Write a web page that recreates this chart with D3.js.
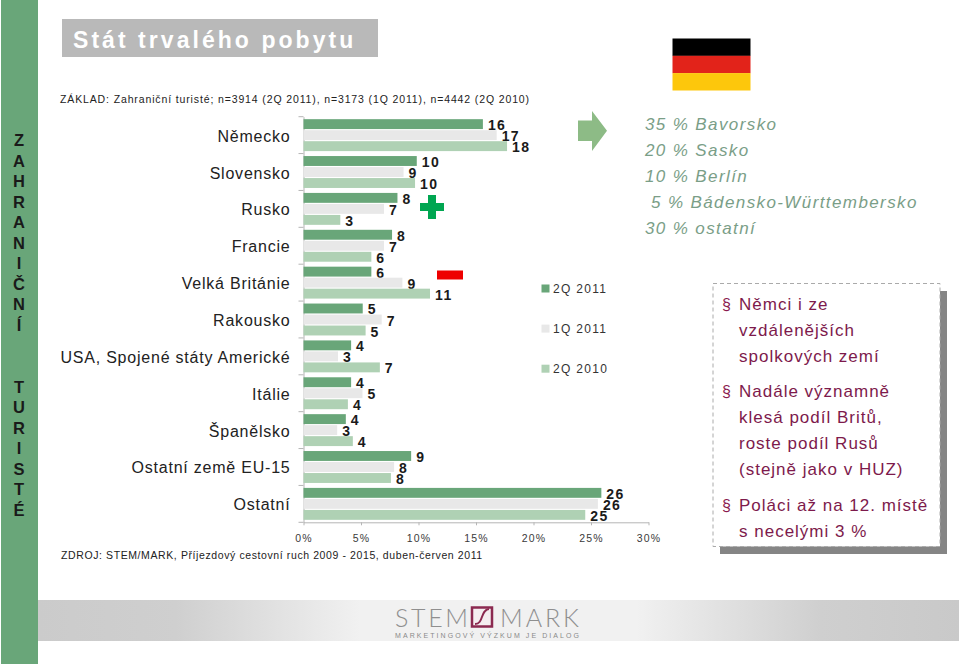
<!DOCTYPE html>
<html>
<head>
<meta charset="utf-8">
<script src="https://cdn.jsdelivr.net/npm/d3@7"></script>
<style>
  html, body { margin: 0; padding: 0; background: #fff; }
  text { font-family: "Liberation Sans", Arial, sans-serif; }
  .axis path, .axis line { stroke: #b5b5b5; }
  .axis text { fill: #3a3a3a; font-size: 10.5px; letter-spacing: 1.25px; }
</style>
</head>
<body>
<svg id="chart" width="960" height="666"></svg>
<script>
const categories = ["Německo", "Slovensko", "Rusko", "Francie", "Velká Británie", "Rakousko",
  "USA, Spojené státy Americké", "Itálie", "Španělsko", "Ostatní země EU-15", "Ostatní"];
const seriesNames = ["2Q 2011", "1Q 2011", "2Q 2010"];
const q2y2011 = [15.6, 9.85, 8.17, 7.7, 5.9, 5.15, 4.14, 4.14, 3.68, 9.36, 25.9];
const q1y2011 = [16.8, 8.7, 7, 7, 8.6, 6.8, 3, 5.13, 2.93, 7.88, 25.6];
const q2y2010 = [17.7, 9.7, 3.2, 5.9, 11, 5.4, 6.64, 3.86, 4.29, 7.6, 24.5];
const seriesValues = [q2y2011, q1y2011, q2y2010];
const seriesColors = ["#69a679", "#e8e8e8", "#afd1b4"];
const xTicks = [0, 5, 10, 15, 20, 25, 30];

const sideLetters = ["Z","A","H","R","A","N","I","Č","N","Í"," "," ","T","U","R","I","S","T","É"];
const regionLines = [["35 %", "Bavorsko"], ["20 %", "Sasko"], ["10 %", "Berlín"],
  ["5 %", "Bádensko-Württembersko"], ["30 %", "ostatní"]];
const noteGroups = [["Němci i ze", "vzdálenějších", "spolkových zemí"],
  ["Nadále významně", "klesá podíl Britů,", "roste podíl Rusů", "(stejně jako v HUZ)"],
  ["Poláci až na 12. místě", "s necelými 3 %"]];
const flagColors = ["#000000", "#e2231a", "#fdc70c"];

const svg = d3.select("#chart");
const defs = svg.append("defs");

// left strip with the vertical heading
svg.append("rect").attr("x", 1).attr("y", 0).attr("width", 37).attr("height", 664).attr("fill", "#69a679");
svg.append("g").selectAll("text").data(sideLetters).enter().append("text")
  .attr("x", 19)
  .attr("y", (d, i) => 146 + i * 20.55)
  .attr("text-anchor", "middle")
  .attr("font-size", 16.5)
  .attr("font-weight", "bold")
  .attr("fill", "#1a1a1a")
  .text(d => d);

// title
svg.append("rect").attr("x", 62).attr("y", 19).attr("width", 316).attr("height", 38).attr("fill", "#b9b9b9");
svg.append("text").attr("x", 73).attr("y", 48)
  .attr("font-size", 23).attr("font-weight", "bold").attr("fill", "#fff")
  .style("letter-spacing", "3.05px").text("Stát trvalého pobytu");

svg.append("text").attr("x", 60).attr("y", 103).attr("font-size", 10.5).attr("fill", "#222")
  .style("letter-spacing", "0.87px")
  .text("ZÁKLAD: Zahraniční turisté; n=3914 (2Q 2011), n=3173 (1Q 2011), n=4442 (2Q 2010)");

// bars
const x = d3.scaleLinear().domain([0, 30]).range([303.5, 648.5]);
const y = d3.scaleBand().domain(categories).range([116.7, 522.3]);
const inner = d3.scaleBand().domain(seriesNames).range([0, y.bandwidth()]).paddingInner(0.1).paddingOuter(0.225);

const yAxis = d3.axisLeft(y).tickValues([]).tickSizeOuter(0);
svg.append("g").attr("class", "axis").attr("transform", "translate(303.5,0)").call(yAxis);
// category separators sit between the bands, not on their centres
svg.append("g").attr("class", "axis").selectAll("line")
  .data(categories.concat("end")).enter().append("line")
  .attr("x1", 298.5).attr("x2", 303.5)
  .attr("y1", (d, i) => y.range()[0] + i * y.step())
  .attr("y2", (d, i) => y.range()[0] + i * y.step());

const xAxis = d3.axisBottom(x).tickValues(xTicks).tickFormat(d => d + "%").tickSize(3).tickSizeOuter(0).tickPadding(9);
svg.append("g").attr("class", "axis").attr("transform", "translate(0,522.3)").call(xAxis);

const series = svg.append("g").selectAll("g").data(seriesNames).enter().append("g");
series.each(function(name, s) {
  const g = d3.select(this);
  const vals = seriesValues[s];
  g.selectAll("rect").data(categories).enter().append("rect")
    .attr("x", x(0))
    .attr("y", c => y(c) + inner(name))
    .attr("width", (c, i) => x(vals[i]) - x(0))
    .attr("height", inner.bandwidth())
    .attr("fill", seriesColors[s]);
  g.selectAll("text").data(categories).enter().append("text")
    .attr("x", (c, i) => x(vals[i]) + 5)
    .attr("y", c => y(c) + inner(name) + inner.bandwidth() / 2 + 6)
    .attr("font-size", 14)
    .attr("font-weight", "bold")
    .attr("fill", "#1a1a1a")
    .style("letter-spacing", "1.4px")
    .text((c, i) => Math.round(vals[i]));
});

svg.append("g").selectAll("text").data(categories).enter().append("text")
  .attr("x", 290.5)
  .attr("y", c => y(c) + y.bandwidth() / 2 + 6.5)
  .attr("text-anchor", "end")
  .attr("font-size", 16)
  .attr("fill", "#222")
  .style("letter-spacing", "0.78px")
  .text(c => c);

svg.append("text").attr("x", 61).attr("y", 559).attr("font-size", 10.5).attr("fill", "#222")
  .style("letter-spacing", "0.6px")
  .text("ZDROJ: STEM/MARK, Příjezdový cestovní ruch 2009 - 2015, duben-červen 2011");

// legend
const legendY = d3.scalePoint().domain(seriesNames).range([288.5, 368.7]);
const legend = svg.append("g").selectAll("g").data(seriesNames).enter().append("g");
legend.append("rect").attr("x", 541.5).attr("y", d => legendY(d) - 4).attr("width", 8).attr("height", 8)
  .attr("fill", (d, i) => seriesColors[i]);
legend.append("text").attr("x", 553).attr("y", d => legendY(d) + 4.5).attr("font-size", 12).attr("fill", "#333")
  .style("letter-spacing", "1.3px").text(d => d);

// arrow, plus, minus
svg.append("path").attr("d", "M578,120.5H592V111L607,130.7L592,151V141H578Z").attr("fill", "#8dbb86");
svg.append("path").attr("d", "M428,195H436V203H444V211H436V219H428V211H420V203H428Z").attr("fill", "#00a651");
svg.append("rect").attr("x", 437).attr("y", 270.5).attr("width", 26).attr("height", 9).attr("fill", "#ee0000");

// flag
svg.append("g").selectAll("rect").data(flagColors).enter().append("rect")
  .attr("x", 672.5).attr("y", (d, i) => 38.5 + i * 17.3).attr("width", 78).attr("height", 17.4).attr("fill", d => d);

// share of German regions
const regionRows = svg.append("g").selectAll("text").data(regionLines).enter().append("text")
  .attr("y", (d, i) => 130 + i * 26)
  .attr("font-size", 17)
  .attr("font-style", "italic")
  .attr("fill", "#7a9e87")
  .style("letter-spacing", "1.4px");
regionRows.append("tspan").attr("x", d => d[0].length < 4 ? 651 : 645).text(d => d[0]);
regionRows.append("tspan").attr("dx", 6).text(d => d[1]);

// note box
svg.append("rect").attr("x", 720).attr("y", 291).attr("width", 227).attr("height", 263).attr("fill", "#858585");
svg.append("rect").attr("x", 713).attr("y", 283.5).attr("width", 227).attr("height", 263)
  .attr("fill", "#fff").attr("stroke", "#aaa").attr("stroke-dasharray", "4 3");
const noteTop = [310, 397, 511];
noteGroups.forEach((lines, g) => {
  svg.append("text").attr("x", 722).attr("y", noteTop[g]).attr("font-size", 16).attr("fill", "#8b1a4f").text("§");
  svg.append("g").selectAll("text").data(lines).enter().append("text")
    .attr("x", 739)
    .attr("y", (d, i) => noteTop[g] + i * 26)
    .attr("font-size", 17)
    .attr("fill", "#7d1a4c")
    .style("letter-spacing", "1px")
    .text(d => d);
});

// footer band and logo
const grad = defs.append("linearGradient").attr("id", "band");
grad.append("stop").attr("offset", "0%").attr("stop-color", "#cbcbcb");
grad.append("stop").attr("offset", "15%").attr("stop-color", "#cfcfcf");
grad.append("stop").attr("offset", "35%").attr("stop-color", "#f1f1f1");
grad.append("stop").attr("offset", "65%").attr("stop-color", "#f1f1f1");
grad.append("stop").attr("offset", "85%").attr("stop-color", "#cfcfcf");
grad.append("stop").attr("offset", "100%").attr("stop-color", "#c9c9c9");
svg.append("rect").attr("x", 38).attr("y", 600).attr("width", 921).attr("height", 41).attr("fill", "url(#band)");
svg.append("text").attr("x", 395).attr("y", 626.5).attr("font-size", 25).attr("fill", "#8f8f8f")
  .style("font-family", "Lato, 'Liberation Sans'").style("font-weight", "300").attr("textLength", 73).text("STEM");
svg.append("text").attr("x", 500).attr("y", 626.5).attr("font-size", 25).attr("fill", "#8f8f8f")
  .style("font-family", "Lato, 'Liberation Sans'").style("font-weight", "300").attr("textLength", 79).text("MARK");
svg.append("rect").attr("x", 472).attr("y", 607.5).attr("width", 20).attr("height", 19)
  .attr("fill", "#f4eef0").attr("stroke", "#8b2a50").attr("stroke-width", 2.5);
svg.append("path").attr("d", "M475,624C484,624 480,610 489,609").attr("fill", "none").attr("stroke", "#8b2a50").attr("stroke-width", 2);
svg.append("text").attr("x", 395).attr("y", 638).attr("font-size", 7).attr("fill", "#8a8a8a")
  .attr("textLength", 184).text("MARKETINGOVÝ VÝZKUM JE DIALOG");
</script>
</body>
</html>
